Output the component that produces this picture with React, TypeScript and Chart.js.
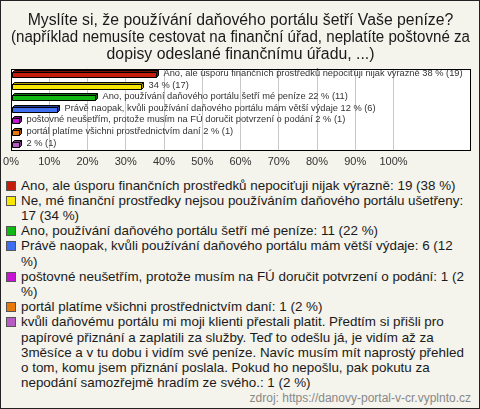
import React, { useEffect, useRef } from "react";
import { Chart, registerables } from "chart.js";

Chart.register(...registerables);

const titleLines = [
  "Myslíte si, že používání daňového portálu šetří Vaše peníze?",
  "(například nemusíte cestovat na finanční úřad, neplatíte poštovné za",
  "dopisy odeslané finančnímu úřadu, ...)",
];

const categories = [
  "Ano, ale úsporu finančních prostředků nepociťuji nijak výrazně",
  "Ne, mé finanční prostředky nejsou používáním daňového portálu ušetřeny",
  "Ano, používání daňového portálu šetří mé peníze",
  "Právě naopak, kvůli používání daňového portálu mám větší výdaje",
  "poštovné neušetřím, protože musím na FÚ doručit potvrzení o podání",
  "portál platíme všichni prostřednictvím daní",
  "kvůli daňovému portálu mi moji klienti přestali platit. Předtím si přišli pro papírové přiznání a zaplatili za služby. Teď to odešlu já, je vidím až za 3měsíce a v tu dobu i vidím své peníze. Navíc musím mít naprostý přehled o tom, komu jsem přiznání poslala. Pokud ho nepošlu, pak pokutu za nepodání samozřejmě hradím ze svého.",
];

const counts = [19, 17, 11, 6, 1, 1, 1];
const percents = [38, 34, 22, 12, 2, 2, 2];

const barLabels = [
  "Ano, ale úsporu finančních prostředků nepociťuji nijak výrazně 38 % (19)",
  "34 % (17)",
  "Ano, používání daňového portálu šetří mé peníze 22 % (11)",
  "Právě naopak, kvůli používání daňového portálu mám větší výdaje 12 % (6)",
  "poštovné neušetřím, protože musím na FÚ doručit potvrzení o podání 2 % (1)",
  "portál platíme všichni prostřednictvím daní 2 % (1)",
  "2 % (1)",
];

const colors = ["#c41e0a", "#f7e600", "#12b812", "#3f6ff0", "#c814d4", "#e8780a", "#b85cc4"];
const depthColors = ["#7a1206", "#a89a00", "#0a720a", "#22409a", "#7a0c82", "#9a4e06", "#7a3a82"];

const xMax = 120;
const tickStep = 10;
const tickLimit = 100;

const sourceText = "zdroj: https://danovy-portal-v-cr.vyplnto.cz";

const FONT = "'Liberation Sans', Arial, sans-serif";

export default function App() {
  const ref = useRef<HTMLCanvasElement>(null);

  useEffect(() => {
    if (!ref.current) return;
    const depth = 2;
    const bars3d = {
      id: "bars3d",
      afterDatasetsDraw(chart: any) {
        const ctx = chart.ctx;
        const meta = chart.getDatasetMeta(0);
        ctx.save();
        meta.data.forEach((el: any, i: number) => {
          const x = Math.round(el.x) + 0.5;
          const base = Math.round(el.base) + 0.5;
          const h = 5;
          const top = Math.round(el.y - h / 2) + 0.5;
          const bot = top + h;
          ctx.lineWidth = 1;
          ctx.strokeStyle = "#000";
          ctx.fillStyle = colors[i];
          ctx.beginPath();
          ctx.rect(base, top, x - base, h);
          ctx.fill();
          ctx.stroke();
          ctx.fillStyle = depthColors[i];
          ctx.beginPath();
          ctx.moveTo(base, top);
          ctx.lineTo(base + depth, top - depth);
          ctx.lineTo(x + depth, top - depth);
          ctx.lineTo(x, top);
          ctx.closePath();
          ctx.fill();
          ctx.stroke();
          ctx.beginPath();
          ctx.moveTo(x, top);
          ctx.lineTo(x + depth, top - depth);
          ctx.lineTo(x + depth, bot - depth);
          ctx.lineTo(x, bot);
          ctx.closePath();
          ctx.fill();
          ctx.stroke();
          ctx.fillStyle = "#333";
          ctx.font = `9.3px ${FONT}`;
          ctx.textBaseline = "middle";
          ctx.textAlign = "left";
          ctx.fillText(barLabels[i], x + depth + 5, el.y - 1);
        });
        ctx.restore();
      },
    };
    const areaBox = {
      id: "areaBox",
      beforeDraw(chart: any) {
        const { ctx, chartArea: a } = chart;
        ctx.save();
        ctx.fillStyle = "#fff";
        ctx.fillRect(a.left, a.top, a.right - a.left, a.bottom - a.top);
        ctx.restore();
      },
      afterDraw(chart: any) {
        const { ctx, chartArea: a } = chart;
        ctx.save();
        ctx.strokeStyle = "#000";
        ctx.lineWidth = 1;
        ctx.strokeRect(Math.round(a.left) + 0.5, Math.round(a.top) + 0.5, Math.round(a.right - a.left), Math.round(a.bottom - a.top));
        ctx.restore();
      },
    };
    const chart = new Chart(ref.current, {
      type: "bar",
      data: {
        labels: categories,
        datasets: [
          {
            data: percents,
            backgroundColor: "rgba(0,0,0,0)",
            borderWidth: 0,
            barThickness: 5,
          },
        ],
      },
      options: {
        indexAxis: "y",
        animation: false,
        responsive: false,
        maintainAspectRatio: false,
        layout: { padding: { left: 10, right: 9, top: 0, bottom: 0 } },
        plugins: {
          legend: { display: false },
          tooltip: { enabled: false },
          title: {
            display: true,
            text: titleLines,
            color: "#1a1a1a",
            font: { family: FONT, size: 15.8, weight: "normal", lineHeight: 1.07 },
            padding: { top: 11, bottom: 6 },
          },
        },
        scales: {
          x: {
            min: 0,
            max: xMax,
            border: { display: false },
            afterFit: (s: any) => {
              s.paddingLeft = 0;
              s.paddingRight = 0;
            },
            grid: {
              color: (c: any) => (c.tick && c.tick.value > 0 && c.tick.value <= tickLimit ? "#c8c8c8" : "rgba(0,0,0,0)"),
              drawTicks: false,
            },
            ticks: {
              stepSize: tickStep,
              autoSkip: false,
              maxRotation: 0,
              padding: 6,
              color: "#333",
              font: { family: FONT, size: 11 },
              callback: (v: any) => (Number(v) <= tickLimit ? `${v}%` : ""),
            },
          },
          y: {
            display: false,
            grid: { display: false },
          },
        },
      },
      plugins: [areaBox, bars3d],
    });
    return () => chart.destroy();
  }, []);

  return (
    <div
      style={{
        position: "relative",
        width: 480,
        height: 409,
        boxSizing: "border-box",
        border: "1px solid #222",
        background: "#f4f3ec",
        fontFamily: FONT,
        overflow: "hidden",
      }}
    >
      <style>{"body{margin:0}"}</style>
      <canvas ref={ref} width={478} height={174} style={{ position: "absolute", left: 0, top: 0, width: 478, height: 174 }} />
      <div style={{ position: "absolute", left: 5, top: 176.5, width: 461, fontSize: 13.4, lineHeight: "15.2px", color: "#1a1a1a" }}>
        {categories.map((c, i) => (
          <div key={i} style={{ display: "flex", alignItems: "flex-start" }}>
            <span
              style={{
                flex: "0 0 auto",
                width: 8,
                height: 8,
                marginTop: 3,
                marginRight: 5,
                background: colors[i],
                border: "1px solid #555",
              }}
            />
            <span>{`${c}: ${counts[i]} (${percents[i]} %)`}</span>
          </div>
        ))}
      </div>
      <div style={{ position: "absolute", right: 8, top: 390, fontSize: 12, color: "#888" }}>{sourceText}</div>
    </div>
  );
}
